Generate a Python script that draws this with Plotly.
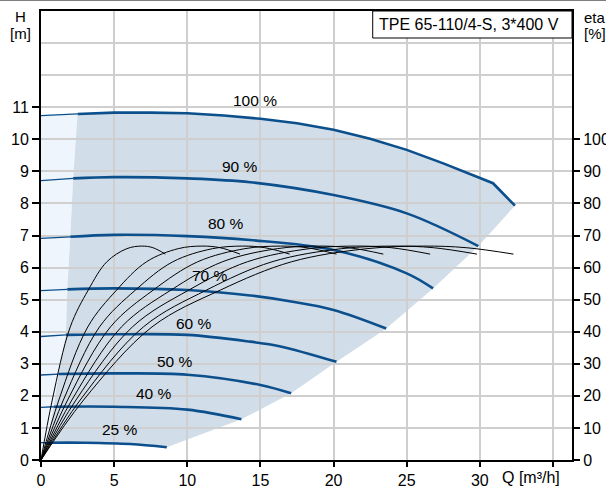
import plotly.graph_objects as go

# ---------------- data ----------------
speed_names = ["100 %", "90 %", "80 %", "70 %", "60 %", "50 %", "40 %", "25 %"]

Q100 = [0, 2.5, 5, 7.5, 10, 12.5, 15, 17.5, 20, 22.5, 25, 27.5, 30.9, 32.4]
H100 = [10.74, 10.79, 10.83, 10.83, 10.81, 10.74, 10.64, 10.5, 10.3, 10.02, 9.67, 9.25, 8.63, 7.93]
Q90 = [0, 2.2, 5, 10, 14.3, 20, 25, 29.9]
H90 = [8.71, 8.78, 8.82, 8.78, 8.66, 8.26, 7.69, 6.67]
Q80 = [0, 2.0, 5, 10, 14.3, 20, 25, 26.8]
H80 = [6.91, 6.96, 7.02, 6.98, 6.86, 6.55, 5.82, 5.35]
Q70 = [0, 1.8, 5, 10, 14.3, 17, 20, 23.6]
H70 = [5.28, 5.32, 5.35, 5.3, 5.13, 4.95, 4.68, 4.1]
Q60 = [0, 1.7, 5, 10, 14.3, 16.3, 20.2]
H60 = [3.85, 3.9, 3.92, 3.9, 3.69, 3.55, 3.06]
Q50 = [0, 1.2, 5, 10, 15, 17.1]
H50 = [2.65, 2.68, 2.7, 2.66, 2.34, 2.08]
Q40 = [0, 0.86, 5, 10, 13.7]
H40 = [1.64, 1.66, 1.66, 1.57, 1.27]
Q25 = [0, 0.41, 3, 6.1, 8.6]
H25 = [0.54, 0.54, 0.54, 0.50, 0.40]

# minimum-flow line (edge of the pale zone)
Qmin = [0, 0.41, 0.86, 1.2, 1.7, 1.8, 2.0, 2.2, 2.5]
Hmin = [0, 0.54, 1.66, 2.68, 3.9, 5.32, 6.96, 8.78, 10.79]

# efficiency curves (eta, %)
etaQ25 = [0, 0.77, 2.0, 3.23, 4.5, 5.87, 6.89, 7.65, 8.5]
etaQ40 = [0, 1.22, 3.2, 5.17, 7.21, 9.38, 11.0, 12.24, 13.6]
etaQ50 = [0, 1.53, 4.0, 6.46, 9.01, 11.73, 13.77, 15.3, 17.0]
etaQ60 = [0, 1.82, 4.75, 7.68, 10.71, 13.94, 16.36, 18.18, 20.2]
etaQ70 = [0, 2.11, 5.5, 8.89, 12.4, 16.15, 18.95, 21.06, 23.4]
etaQ80 = [0, 2.39, 6.25, 10.11, 14.1, 18.35, 21.55, 23.94, 26.6]
etaQ90 = [0, 2.68, 7.0, 11.32, 15.79, 20.56, 24.14, 26.82, 29.8]
etaQ100 = [0, 2.91, 7.59, 12.27, 17.12, 22.29, 26.16, 29.07, 32.3]
eta_vals = [0, 18.7, 41.5, 53, 61.8, 65.9, 66.7, 66.2, 64.2]

x_ticks = [0, 5, 10, 15, 20, 25, 30, 35]
x_ticktext = ["0", "5", "10", "15", "20", "25", "30", ""]
h_ticks = list(range(0, 12))
eta_ticks = list(range(0, 101, 10))

title_text = "TPE 65-110/4-S, 3*400 V"

# ---------------- styling ----------------
FONT = "Liberation Sans, Arial, sans-serif"
BLUE = "#0b4f8c"
DARK_FILL = "#d1dde9"
PALE_FILL = "#eef5fc"
GRID = "#cfcfcf"

speed_curves = [(Q100, H100), (Q90, H90), (Q80, H80), (Q70, H70),
                (Q60, H60), (Q50, H50), (Q40, H40), (Q25, H25)]
eta_curves = [etaQ25, etaQ40, etaQ50, etaQ60, etaQ70, etaQ80, etaQ90, etaQ100]

label_pos = [(14.64, 11.2), (13.6, 9.16), (12.66, 7.36), (11.57, 5.74),
             (10.47, 4.27), (9.17, 3.07), (7.74, 2.06), (5.42, 0.94)]

fig = go.Figure()


def path_from(pts):
    return "M " + " L ".join(f"{x},{y}" for x, y in pts) + " Z"


# pale zone: from axis to min-flow line, under 100% curve
pale_pts = [(0, 0), (Q100[0], H100[0]), (Q100[1], H100[1])]
pale_pts += list(zip(Qmin[::-1], Hmin[::-1]))
# dark operating zone
dark_pts = list(zip(Qmin[1:], Hmin[1:]))
dark_pts += list(zip(Q100[2:], H100[2:]))
for q, h in speed_curves[1:]:
    dark_pts.append((q[-1], h[-1]))
dark_pts += list(zip(Q25[::-1][1:-1], H25[::-1][1:-1]))

shapes = [
    dict(type="path", path=path_from(pale_pts), xref="x", yref="y",
         fillcolor=PALE_FILL, line=dict(width=0), layer="below"),
    dict(type="path", path=path_from(dark_pts), xref="x", yref="y",
         fillcolor=DARK_FILL, line=dict(width=0), layer="below"),
    # title box
    dict(type="rect", xref="paper", yref="paper", x0=0.6247, x1=1.0, y0=0.9399, y1=1.0,
         line=dict(color="black", width=1), fillcolor="white", layer="above"),
    # thin grey frame line at very top of image
    dict(type="line", xref="paper", yref="paper", x0=-0.08, x1=1.07, y0=1.0235, y1=1.0235,
         line=dict(color="#777777", width=1)),
]

# efficiency curves
for eq in eta_curves:
    fig.add_trace(go.Scatter(x=eq, y=eta_vals, mode="lines", yaxis="y2",
                             line=dict(color="black", width=1, shape="spline"),
                             hoverinfo="skip", showlegend=False))

# speed curves: thin part left of min-flow, thick part after
for i, (q, h) in enumerate(speed_curves):
    fig.add_trace(go.Scatter(x=q[:2], y=h[:2], mode="lines",
                             line=dict(color=BLUE, width=1.3),
                             hoverinfo="skip", showlegend=False))
    fig.add_trace(go.Scatter(x=q[1:], y=h[1:], mode="lines",
                             line=dict(color=BLUE, width=2.6,
                                       shape="linear" if i == 0 else "spline"),
                             hoverinfo="skip", showlegend=False))

annotations = []
for name, (lx, ly) in zip(speed_names, label_pos):
    annotations.append(dict(x=lx, y=ly, xref="x", yref="y", text=name, showarrow=False,
                            font=dict(size=15.5, color="black", family=FONT),
                            xanchor="center", yanchor="middle"))

annotations += [
    dict(x=0.6322, y=0.970, xref="paper", yref="paper", text=title_text, showarrow=False,
         xanchor="left", yanchor="middle", font=dict(size=16, color="black", family=FONT)),
    dict(x=-0.0382, y=0.988, xref="paper", yref="paper", text="H", showarrow=False,
         xanchor="center", yanchor="middle", font=dict(size=15, color="black", family=FONT)),
    dict(x=-0.0377, y=0.949, xref="paper", yref="paper", text="[m]", showarrow=False,
         xanchor="center", yanchor="middle", font=dict(size=15, color="black", family=FONT)),
    dict(x=1.0188, y=0.986, xref="paper", yref="paper", text="eta", showarrow=False,
         xanchor="left", yanchor="middle", font=dict(size=15, color="black", family=FONT)),
    dict(x=1.0188, y=0.949, xref="paper", yref="paper", text="[%]", showarrow=False,
         xanchor="left", yanchor="middle", font=dict(size=15, color="black", family=FONT)),
    dict(x=0.9228, y=-0.040, xref="paper", yref="paper", text="Q [m³/h]", showarrow=False,
         xanchor="center", yanchor="middle", font=dict(size=16, color="black", family=FONT)),
]

fig.update_layout(
    width=606, height=489,
    margin=dict(l=41, r=34, t=11, b=29, autoexpand=False),
    paper_bgcolor="white", plot_bgcolor="white",
    font=dict(family=FONT, size=16, color="black"),
    shapes=shapes, annotations=annotations,
    xaxis=dict(range=[0, 36.3], tickmode="array", tickvals=x_ticks, ticktext=x_ticktext,
               ticks="outside", ticklen=5, tickwidth=2, tickcolor="black",
               showline=True, linewidth=2, linecolor="black", mirror=True,
               showgrid=True, gridcolor=GRID, gridwidth=1.5, zeroline=False,
               automargin=False, tickfont=dict(size=16)),
    yaxis=dict(range=[0, 14], tickmode="array", tickvals=h_ticks,
               ticks="outside", ticklen=7, tickwidth=2, tickcolor="black",
               showline=True, linewidth=2, linecolor="black",
               showgrid=True, gridcolor=GRID, gridwidth=1.5, zeroline=False,
               minor=dict(tickmode="array", tickvals=[12, 13], showgrid=True,
                          gridcolor=GRID, gridwidth=1.5, ticks=""),
               automargin=False, tickfont=dict(size=16)),
    yaxis2=dict(range=[0, 140], overlaying="y", side="right", tickmode="array",
                tickvals=eta_ticks, ticks="outside", ticklen=6, tickwidth=2,
                tickcolor="black", showline=True, linewidth=2, linecolor="black",
                showgrid=False, zeroline=False, automargin=False,
                tickfont=dict(size=16)),
)

fig.write_html(
    "out.html",
    config={"displayModeBar": False},
    post_script="document.body.style.margin='0';document.body.style.padding='0';",
)
